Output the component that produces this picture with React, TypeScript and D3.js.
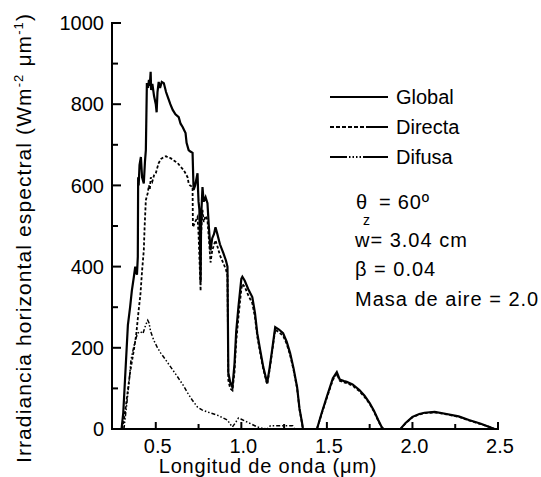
import React from "react";
import * as d3 from "d3";

const W = 541;
const H = 477;

const xTickValues = [0.5, 1.0, 1.5, 2.0, 2.5];
const xTickLabels = ["0.5", "1.0", "1.5", "2.0", "2.5"];
const xMinorTicks = [0.75, 1.25, 1.75, 2.25];
const yTickValues = [0, 200, 400, 600, 800, 1000];
const yTickLabels = ["0", "200", "400", "600", "800", "1000"];
const yMinorTicks = [100, 300, 500, 700, 900];

const legendNames = ["Global", "Directa", "Difusa"];
const annotations = ["w= 3.04 cm", "β = 0.04", "Masa de aire = 2.0"];

const globalData: [number, number][] = [
  [0.30, 0], [0.31, 40], [0.32, 120], [0.33, 200], [0.337, 256], [0.35, 300], [0.36, 340],
  [0.372, 375], [0.38, 400], [0.39, 380], [0.395, 424], [0.397, 620], [0.40, 600], [0.405, 650],
  [0.413, 670], [0.42, 620], [0.43, 605], [0.437, 660], [0.442, 687], [0.448, 852], [0.455, 840],
  [0.46, 860], [0.465, 845], [0.47, 880], [0.473, 835], [0.48, 850], [0.49, 820], [0.50, 800],
  [0.505, 780], [0.51, 830], [0.517, 855], [0.525, 840], [0.535, 855], [0.547, 852], [0.56, 830],
  [0.57, 818], [0.585, 800], [0.599, 786], [0.615, 775], [0.634, 768], [0.645, 752], [0.657, 744],
  [0.674, 729], [0.68, 705], [0.692, 687], [0.70, 684], [0.715, 680], [0.721, 589], [0.73, 600],
  [0.744, 630], [0.747, 589], [0.75, 560], [0.755, 540], [0.762, 362], [0.765, 520], [0.773, 596],
  [0.78, 560], [0.791, 571], [0.802, 556], [0.81, 500], [0.82, 440], [0.83, 470], [0.84, 480],
  [0.849, 497], [0.86, 480], [0.875, 455], [0.895, 433], [0.91, 415], [0.919, 400], [0.924, 138],
  [0.935, 115], [0.948, 103], [0.96, 160], [0.97, 240], [0.983, 300], [1.0, 370], [1.006, 375],
  [1.02, 365], [1.04, 345], [1.064, 325], [1.08, 285], [1.093, 236], [1.11, 195], [1.128, 153],
  [1.151, 113], [1.165, 150], [1.18, 195], [1.198, 251], [1.22, 245], [1.244, 236], [1.265, 215],
  [1.285, 187], [1.305, 150], [1.326, 103], [1.34, 50], [1.355, 15], [1.36, 0], [1.442, 0],
  [1.47, 40], [1.50, 80], [1.535, 125], [1.558, 140], [1.575, 122], [1.6, 118], [1.616, 116],
  [1.65, 110], [1.69, 96], [1.72, 82], [1.75, 64], [1.775, 45], [1.80, 22], [1.82, 5], [1.83, 0],
  [1.93, 0], [1.96, 15], [2.0, 30], [2.04, 37], [2.07, 40], [2.13, 42], [2.2, 37], [2.27, 31],
  [2.33, 22], [2.4, 13], [2.45, 5], [2.48, 0], [2.5, 0],
];

const directaData: [number, number][] = [
  [0.305, 0], [0.32, 40], [0.337, 96], [0.35, 140], [0.372, 195], [0.385, 230], [0.40, 293],
  [0.41, 330], [0.42, 390], [0.43, 440], [0.435, 500], [0.442, 564], [0.453, 581], [0.46, 600],
  [0.465, 590], [0.471, 620], [0.48, 610], [0.49, 625], [0.50, 630], [0.51, 645], [0.517, 655],
  [0.53, 665], [0.547, 670], [0.56, 672], [0.575, 668], [0.587, 667], [0.61, 660], [0.628, 655],
  [0.645, 646], [0.663, 638], [0.676, 628], [0.686, 620], [0.692, 605], [0.70, 600], [0.715, 596],
  [0.717, 497], [0.73, 510], [0.744, 522], [0.75, 480], [0.762, 340], [0.765, 480], [0.773, 540],
  [0.78, 510], [0.791, 525], [0.802, 515], [0.81, 470], [0.82, 410], [0.83, 440], [0.849, 465],
  [0.86, 450], [0.875, 428], [0.895, 408], [0.91, 393], [0.919, 378], [0.924, 120], [0.935, 100],
  [0.948, 95], [0.96, 140], [0.97, 215], [0.983, 275], [1.0, 345], [1.006, 357], [1.02, 350],
  [1.04, 330], [1.064, 310], [1.08, 275], [1.093, 228], [1.11, 188], [1.128, 148], [1.151, 110],
  [1.165, 145], [1.18, 190], [1.198, 245], [1.22, 238], [1.244, 230], [1.265, 210], [1.285, 182],
  [1.305, 146], [1.326, 100], [1.34, 48], [1.355, 13], [1.36, 0], [1.442, 0], [1.47, 38],
  [1.50, 77], [1.535, 121], [1.558, 136], [1.575, 119], [1.6, 115], [1.616, 113], [1.65, 107],
  [1.69, 93], [1.72, 79], [1.75, 62], [1.775, 43], [1.80, 20], [1.82, 4], [1.83, 0], [1.93, 0],
  [1.96, 14], [2.0, 29], [2.04, 36], [2.07, 39], [2.13, 41], [2.2, 36], [2.27, 30], [2.33, 21],
  [2.4, 12], [2.45, 5], [2.48, 0],
];

const difusaData: [number, number][] = [
  [0.314, 0], [0.33, 60], [0.345, 120], [0.355, 170], [0.37, 200], [0.385, 225], [0.395, 236],
  [0.41, 240], [0.425, 235], [0.44, 255], [0.453, 268], [0.46, 262], [0.47, 240], [0.488, 219],
  [0.51, 200], [0.529, 187], [0.55, 175], [0.57, 163], [0.6, 145], [0.628, 128], [0.66, 108],
  [0.686, 89], [0.715, 70], [0.744, 54], [0.77, 47], [0.802, 42], [0.83, 38], [0.86, 34],
  [0.89, 28], [0.919, 22], [0.935, 12], [0.948, 5], [0.965, 15], [0.983, 27], [1.0, 24],
  [1.035, 17], [1.06, 12], [1.093, 5], [1.12, 2], [1.15, 0], [1.17, 8], [1.30, 8], [1.31, 0],
  [1.55, 0],
];

const FONT = "'Liberation Sans', Arial, sans-serif";

export default function App() {
  const x = d3.scaleLinear().domain([0.25, 2.5]).range([113, 498]);
  const y = d3.scaleLinear().domain([0, 1000]).range([429, 23]);
  const line = d3
    .line<[number, number]>()
    .x((d) => x(d[0]))
    .y((d) => y(d[1]));

  const series = [
    { data: globalData, dash: "none", width: 2.2 },
    { data: directaData, dash: "3,2", width: 1.8 },
    { data: difusaData, dash: "4,2,1.5,2,1.5,2", width: 1.5 },
  ];

  const legendDash = ["none", "4,2,4,2,4,2,4,2,4,2,4,2,40", "17,2,1.5,2,1.5,2,1.5,2,1.5,2,40"];
  const legendY = [97, 127, 157];
  const annY = [247, 276, 306];

  return (
    <svg
      width={W}
      height={H}
      style={{ position: "absolute", left: 0, top: 0, background: "#fff" }}
      fontFamily={FONT}
    >
      <rect x={0} y={0} width={W} height={H} fill="#fff" />
      {series.map((s, i) => (
        <path
          key={i}
          d={line(s.data) || ""}
          fill="none"
          stroke="#000"
          strokeWidth={s.width}
          strokeDasharray={s.dash}
          strokeLinejoin="miter"
        />
      ))}
      <line x1={112} x2={112} y1={y(1000) - 1} y2={y(0) + 1} stroke="#000" strokeWidth={2} />
      <line x1={111} x2={499} y1={y(0)} y2={y(0)} stroke="#000" strokeWidth={2} />
      {yTickValues.map((v, i) => (
        <g key={"yt" + i}>
          <line x1={112} x2={121} y1={y(v)} y2={y(v)} stroke="#000" strokeWidth={2} />
          <text x={104} y={y(v)} dy="0.36em" textAnchor="end" fontSize={20}>
            {yTickLabels[i]}
          </text>
        </g>
      ))}
      {yMinorTicks.map((v, i) => (
        <line key={"ym" + i} x1={112} x2={118} y1={y(v)} y2={y(v)} stroke="#000" strokeWidth={2} />
      ))}
      {xTickValues.map((v, i) => (
        <g key={"xt" + i}>
          <line x1={x(v)} x2={x(v)} y1={y(0)} y2={y(0) - 7} stroke="#000" strokeWidth={2} />
          <text x={x(v) + 2} y={453} textAnchor="middle" fontSize={20}>
            {xTickLabels[i]}
          </text>
        </g>
      ))}
      {xMinorTicks.map((v, i) => (
        <line key={"xm" + i} x1={x(v)} x2={x(v)} y1={y(0)} y2={y(0) - 5} stroke="#000" strokeWidth={2} />
      ))}
      <text x={268} y={473} textAnchor="middle" fontSize={20} letterSpacing={0.8}>
        Longitud de onda (μm)
      </text>
      <text
        transform="translate(31,238) rotate(-90)"
        textAnchor="middle"
        fontSize={21}
        letterSpacing={1.1}
      >
        Irradiancia horizontal espectral (Wm
        <tspan fontSize={13} dy={-8}>-2</tspan>
        <tspan dy={8}> μm</tspan>
        <tspan fontSize={13} dy={-8}>-1</tspan>
        <tspan dy={8}>)</tspan>
      </text>
      {legendNames.map((n, i) => (
        <g key={"lg" + i}>
          <line
            x1={330}
            x2={388}
            y1={legendY[i]}
            y2={legendY[i]}
            stroke="#000"
            strokeWidth={1.8}
            strokeDasharray={legendDash[i]}
          />
          <text x={396} y={legendY[i] + 7} fontSize={20}>
            {n}
          </text>
        </g>
      ))}
      <text x={356} y={209} fontSize={20}>θ</text>
      <text x={363} y={225} fontSize={14}>z</text>
      <text x={379} y={209} fontSize={20} letterSpacing={0.8}>= 60º</text>
      {annotations.map((t, i) => (
        <text key={"an" + i} x={355} y={annY[i]} fontSize={20} letterSpacing={1}>
          {t}
        </text>
      ))}
    </svg>
  );
}
